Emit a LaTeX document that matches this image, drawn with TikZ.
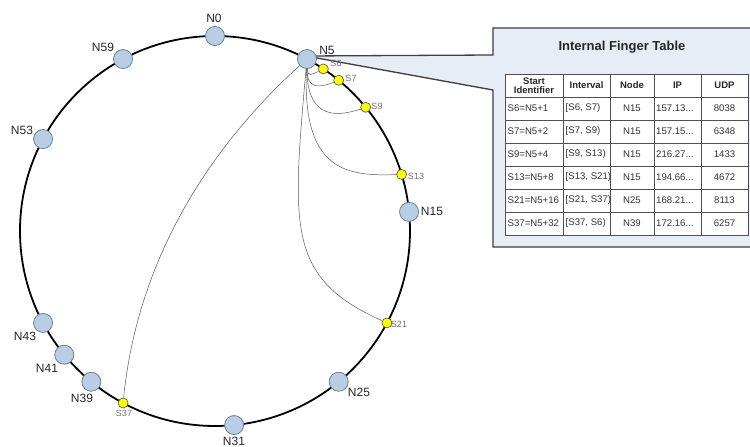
\documentclass[tikz,border=0pt]{standalone}
\usepackage{fontspec}
\setmainfont{Liberation Sans}
\newcommand{\trail}{...}
\definecolor{nodefill}{HTML}{B9CDE5}
\definecolor{nodeedge}{HTML}{6B7E96}
\definecolor{panelfill}{HTML}{E6EDF7}
\definecolor{paneledge}{HTML}{3F3F3F}
\definecolor{txt}{HTML}{262626}
\definecolor{slabel}{HTML}{707070}
\definecolor{tabtxt}{HTML}{333333}
\definecolor{tabline}{HTML}{505050}
\definecolor{keyfill}{HTML}{FFFF00}
\tikzset{
 peer/.style={circle, draw=nodeedge, fill=nodefill, line width=0.8pt, minimum size=19pt, inner sep=0pt},
 key/.style={circle, draw=black!70, fill=keyfill, line width=0.6pt, minimum size=10pt, inner sep=0pt},
 plabel/.style={text=txt, font=\fontsize{12}{14}\selectfont, inner sep=0pt},
 klabel/.style={text=slabel, font=\fontsize{9}{10}\selectfont, inner sep=0pt},
 finger/.style={draw=black!65, line width=0.5pt},
 ring/.style={draw=black, line width=1.8pt},
 cell/.style={text=tabtxt, font=\fontsize{9.6}{11}\selectfont, inner sep=0pt},
 head/.style={text=black!85, font=\fontsize{9.5}{9.5}\selectfont\bfseries, align=center, inner sep=0pt},
 grid/.style={draw=tabline, line width=0.8pt},
}
\begin{document}
\begin{tikzpicture}[x=1pt,y=-1pt]
\useasboundingbox (0,0) rectangle (750,447);
\fill[white] (0,0) rectangle (750,447);
% callout panel
\coordinate (tip) at (306,56);
\filldraw[fill=panelfill, draw=paneledge, line width=1.3pt, line join=miter]
  (493,55) -- (493,28) -- (760,28) -- (760,247) -- (493,247) -- (493,90) -- (tip) -- cycle;
% ring
\draw[ring] (215,231) circle[radius=195];
% peers
\foreach \k in {0,5,15,25,31,39,41,43,53,59}
  \node[peer] (n\k) at ({215+195*sin(\k*5.625)},{231-195*cos(\k*5.625)}) {};
% keys
\foreach \k in {6,7,9,13,21,37}
  \node[key] (s\k) at ({215+195*sin(\k*5.625)},{231-195*cos(\k*5.625)}) {};
% finger links
\draw[finger] (n5) .. controls +(1,18) and +(-12,6) .. (s6);
\draw[finger] (n5) .. controls +(0,30) and +(-20,8) .. (s7);
\draw[finger] (n5) .. controls +(0,55) and +(-35,12) .. (s9);
\draw[finger] (n5) .. controls +(-5,112) and +(-55,2) .. (s13);
\draw[finger] (n5) .. controls +(-15,170) and +(-100,-45) .. (s21);
\draw[finger] (n5) .. controls +(-110,100) and +(13,-130) .. (s37);
% peer labels
\node[plabel] (l0) at (214,18) {N0};
\node[plabel] (l5) at (327,50) {N5};
\node[plabel] (l15) at (432,211) {N15};
\node[plabel] (l25) at (359,392) {N25};
\node[plabel] (l31) at (234,441) {N31};
\node[plabel] (l39) at (82,398) {N39};
\node[plabel] (l41) at (47,368) {N41};
\node[plabel] (l43) at (25,336) {N43};
\node[plabel] (l53) at (22,130) {N53};
\node[plabel] (l59) at (103,47) {N59};
% key labels
\node[klabel] (k6) at (336,63) {S6};
\node[klabel] (k7) at (351,78) {S7};
\node[klabel] (k9) at (377,106) {S9};
\node[klabel] (k13) at (416,176) {S13};
\node[klabel] (k21) at (399,324) {S21};
\node[klabel] (k37) at (124,413) {S37};
% title
\node[text=black!85, font=\fontsize{13}{15}\selectfont\bfseries, inner sep=0pt] (title) at (622,47) {Internal Finger Table};
% table
\fill[white] (505,74) rectangle (748,235);
\foreach \x in {563,610,654,701} \draw[grid] (\x,74) -- (\x,235);
\foreach \y in {97,120,143,166,189,212} \draw[grid] (505,\y) -- (748,\y);
\draw[grid] (505,74) rectangle (748,235);
\node[head] (h1) at (534,85.5) {Start\\Identifier};
\node[head] (h2) at (586.5,85.5) {Interval};
\node[head] (h3) at (632,85.5) {Node};
\node[head] (h4) at (677.5,85.5) {IP};
\node[head] (h5) at (724.5,85.5) {UDP};
\foreach \a/\b/\c/\d/\e [count=\i] in {
  S6=N5+1/{[S6, S7)}/N15/157.13\trail/8038,
  S7=N5+2/{[S7, S9)}/N15/157.15\trail/6348,
  S9=N5+4/{[S9, S13)}/N15/216.27\trail/1433,
  S13=N5+8/{[S13, S21)}/N15/194.66\trail/4672,
  S21=N5+16/{[S21, S37)}/N25/168.21\trail/8113,
  S37=N5+32/{[S37, S6)}/N39/172.16\trail/6257} {
  \node[cell, anchor=west] (r\i a) at (507.5,{85.5+23*\i}) {\a};
  \node[cell, anchor=west] (r\i b) at (565.5,{85.5+23*\i}) {\b};
  \node[cell] (r\i c) at (632,{85.5+23*\i}) {\c};
  \node[cell, anchor=west] (r\i d) at (656,{85.5+23*\i}) {\d};
  \node[cell] (r\i e) at (724.5,{85.5+23*\i}) {\e};
}
\end{tikzpicture}
\end{document}
